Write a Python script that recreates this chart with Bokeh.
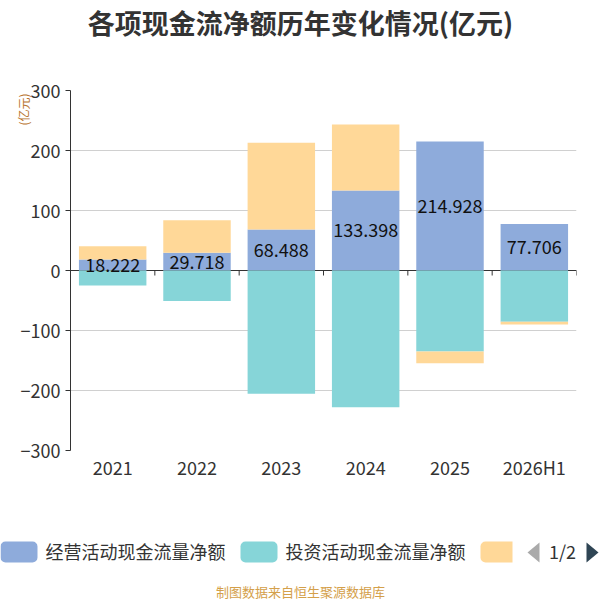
import numpy as np
from bokeh.plotting import figure
from bokeh.layouts import column
from bokeh.models import Range1d, FixedTicker, Title
from bokeh.core.properties import value
from bokeh.embed import file_html
from bokeh.resources import INLINE

years = ["2021", "2022", "2023", "2024", "2025", "2026H1"]
operating = [18.222, 29.718, 68.488, 133.398, 214.928, 77.706]
investing = [-25.0, -51.0, -205.5, -227.8, -135.0, -85.6]
financing = [22.0, 54.0, 144.3, 110.0, -19.5, -4.5]
y_ticks = [-300, -200, -100, 0, 100, 200, 300]

names = ["经营活动现金流量净额", "投资活动现金流量净额", "筹资活动现金流量净额"]
colors = ["#8eabdb", "#86d5d8", "#ffd898"]
FONT = "Noto Sans CJK SC"
TXT = "#333333"

# stack positives and negatives separately (like echarts)
xs = np.arange(len(years)) + 0.5
pos_base = np.zeros(len(years))
neg_base = np.zeros(len(years))
stacks = []
for vals in (operating, investing, financing):
    v = np.array(vals, dtype=float)
    bottom = np.where(v >= 0, pos_base, neg_base)
    top = bottom + v
    pos_base = np.where(v >= 0, top, pos_base)
    neg_base = np.where(v < 0, top, neg_base)
    stacks.append((bottom, top))

# ---- header
head = figure(width=600, height=66, x_range=Range1d(0, 600), y_range=Range1d(66, 0),
              x_axis_type=None, y_axis_type=None, output_backend="svg",
              toolbar_location=None, min_border=0, frame_align=False)
head.outline_line_color = None
head.grid.visible = False
head.text(x=[300], y=[22], text=["各项现金流净额历年变化情况(亿元)"], text_font=value(FONT),
          text_font_size="27px", text_font_style="bold", text_color=TXT,
          text_align="center", text_baseline="middle")

# ---- main chart
FRAME_H = 360
p = figure(width=600, height=424, x_range=Range1d(0, len(years)), y_range=Range1d(-300, 300),
           output_backend="svg", toolbar_location=None, frame_align=False,
           min_border_left=70, min_border_right=24, min_border_top=24, min_border_bottom=40)
p.outline_line_color = None
p.xgrid.visible = False
p.ygrid.grid_line_color = "#d0d0d0"
p.ygrid.ticker = FixedTicker(ticks=y_ticks)

p.yaxis.ticker = FixedTicker(ticks=y_ticks)
p.yaxis.axis_line_color = TXT
p.yaxis.major_tick_line_color = TXT
p.yaxis.major_tick_out = 5
p.yaxis.major_tick_in = 0
p.yaxis.minor_tick_line_color = None
p.yaxis.major_label_text_font = FONT
p.yaxis.major_label_text_font_size = "18px"
p.yaxis.major_label_text_color = TXT
p.yaxis.major_label_standoff = 5

p.xaxis.ticker = FixedTicker(ticks=list(xs))
p.xaxis.major_label_overrides = {float(x): y for x, y in zip(xs, years)}
p.xaxis.axis_line_color = None
p.xaxis.major_tick_line_color = None
p.xaxis.minor_tick_line_color = None
p.xaxis.major_label_text_font = FONT
p.xaxis.major_label_text_font_size = "18px"
p.xaxis.major_label_text_color = TXT
p.xaxis.major_label_standoff = -3

# unit name at the top of the y axis
p.add_layout(Title(text="(亿元)", align="right", text_font=FONT, text_font_size="12px",
                   text_font_style="normal", text_color="#b8742e", standoff=-28,
                   offset=3), "left")

# zero axis line with category boundary ticks
tick_len = 5 * 600 / FRAME_H
bounds = np.arange(len(years) + 1)
p.segment(x0=[0], x1=[len(years)], y0=[0], y1=[0], line_color=TXT, line_width=1)
p.segment(x0=bounds, x1=bounds, y0=np.zeros(len(bounds)), y1=np.full(len(bounds), -tick_len),
          line_color=TXT, line_width=1)

for (bottom, top), c in zip(stacks, colors):
    p.vbar(x=xs, bottom=bottom, top=top, width=0.8, fill_color=c, line_color=None)

p.text(x=xs, y=np.array(operating) / 2, text=[f"{v:.3f}" for v in operating],
       text_font=value(FONT), text_font_size="18px", text_color="#111111",
       text_align="center", text_baseline="middle")

# ---- legend + footer
leg = figure(width=600, height=110, x_range=Range1d(0, 600), y_range=Range1d(600, 490),
             x_axis_type=None, y_axis_type=None, output_backend="svg",
             toolbar_location=None, min_border=0, frame_align=False)
leg.outline_line_color = None
leg.grid.visible = False
sw_left = [0, 240, 480]
sw_right = [37, 277, 512]
leg.quad(left=sw_left[:2], right=sw_right[:2], top=[541, 541], bottom=[562, 562],
         fill_color=colors[:2], line_color=None, border_radius=5)
leg.quad(left=[sw_left[2]], right=[sw_right[2]], top=[541], bottom=[562],
         fill_color=colors[2], line_color=None, border_radius=(5, 0, 0, 5))
leg.text(x=[45, 285], y=[550, 550], text=names[:2], text_font=value(FONT),
         text_font_size="18px", text_color=TXT, text_align="left", text_baseline="middle")
leg.patch(x=[539, 527, 539], y=[542, 552, 562], fill_color="#aaaaaa", line_color=None)
leg.text(x=[562], y=[550], text=["1/2"], text_font=value(FONT), text_font_size="18px",
         text_color=TXT, text_align="center", text_baseline="middle")
leg.patch(x=[586, 598, 586], y=[542, 552, 562], fill_color="#2f4554", line_color=None)
leg.text(x=[300], y=[591], text=["制图数据来自恒生聚源数据库"], text_font=value(FONT),
         text_font_size="13px", text_color="#d4a04a", text_align="center",
         text_baseline="middle")

layout = column(head, p, leg, spacing=0)
open("out.html", "w").write(file_html(layout, INLINE))
